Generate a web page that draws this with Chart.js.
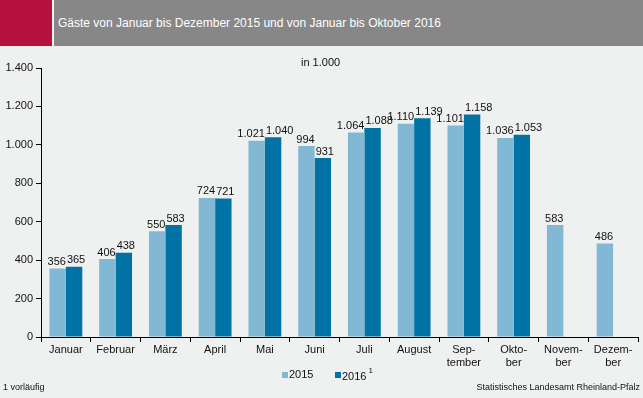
<!DOCTYPE html>
<html>
<head>
<meta charset="utf-8">
<script src="https://cdn.jsdelivr.net/npm/chart.js@4"></script>
<style>
  body { margin: 0; background: #eff0f0; font-family: "Liberation Sans", Arial, sans-serif; }
  #wrap { position: relative; width: 643px; height: 398px; overflow: hidden; }
  #red { position: absolute; left: 0; top: 0; width: 52px; height: 46px; background: #b5113f; }
  #head { position: absolute; left: 54px; top: 0; right: 0; height: 46px; background: #878787;
          color: #fff; font-size: 12px; line-height: 46px; padding-left: 4px; }
  canvas { position: absolute; left: 0; top: 0; }
  .txt { position: absolute; font-size: 11px; color: #111; white-space: nowrap; }
  .box { position: absolute; width: 6px; height: 6px; }
  .foot { position: absolute; font-size: 9px; color: #111; top: 382px; }
</style>
</head>
<body>
<div id="wrap">
  <div id="red"></div>
  <div id="head">Gäste von Januar bis Dezember 2015 und von Januar bis Oktober 2016</div>
  <canvas id="myChart" width="643" height="398"></canvas>
  <div class="txt" style="left:301px; top:56px;">in 1.000</div>
  <div class="box" style="left:282px; top:372px; background:#82b8d3;"></div>
  <div class="txt" style="left:289px; top:368px;">2015</div>
  <div class="box" style="left:335px; top:372px; background:#0072a3;"></div>
  <div class="txt" style="left:342px; top:368px;">2016<sup style="font-size:8px; position:relative; top:-2px; margin-left:2px;">1</sup></div>
  <div class="foot" style="left:3px;">1 vorläufig</div>
  <div class="foot" style="right:3px;">Statistisches Landesamt Rheinland-Pfalz</div>
</div>
<script>
const categories = ['Januar', 'Februar', 'März', 'April', 'Mai', 'Juni', 'Juli', 'August',
  ['Sep-', 'tember'], ['Okto-', 'ber'], ['Novem-', 'ber'], ['Dezem-', 'ber']];
const guests2015 = [356, 406, 550, 724, 1021, 994, 1064, 1110, 1101, 1036, 583, 486];
const guests2016 = [365, 438, 583, 721, 1040, 931, 1088, 1139, 1158, 1053, null, null];

const fontFamily = '"Liberation Sans", Arial, sans-serif';

function fmt(v){
  // German thousands separator
  return String(v).replace(/\B(?=(\d{3})+(?!\d))/g, '.');
}

const valueLabels = {
  id: 'valueLabels',
  afterDatasetsDraw(chart){
    const ctx = chart.ctx;
    ctx.save();
    ctx.font = '11px ' + fontFamily;
    ctx.fillStyle = '#111';
    ctx.textBaseline = 'bottom';
    chart.data.datasets.forEach((ds, i) => {
      const meta = chart.getDatasetMeta(i);
      meta.data.forEach((bar, j) => {
        const v = ds.data[j];
        if(v == null) return;
        if(i == 0){
          ctx.textAlign = 'right';
          ctx.fillText(fmt(v), bar.x + bar.width / 2, bar.y - 1);
        } else {
          ctx.textAlign = 'left';
          ctx.fillText(fmt(v), bar.x - bar.width / 2 + 1, bar.y - 1);
        }
      });
    });
    ctx.restore();
  }
};

new Chart(document.getElementById('myChart').getContext('2d'), {
  type: 'bar',
  data: {
    labels: categories,
    datasets: [
      { label: '2015', data: guests2015, backgroundColor: '#82b8d3', barPercentage: 1, categoryPercentage: 0.66 },
      { label: '2016', data: guests2016, backgroundColor: '#0072a3', barPercentage: 1, categoryPercentage: 0.66 }
    ]
  },
  options: {
    responsive: false,
    animation: false,
    layout: { padding: { top: 68, right: 5, left: 0, bottom: 0 } },
    plugins: { legend: { display: false }, tooltip: { enabled: false } },
    scales: {
      y: {
        min: 0, max: 1400,
        afterFit(scale){ scale.width = 41; },
        ticks: { stepSize: 200, padding: 3, color: '#111', font: { size: 11, family: fontFamily },
                 callback: v => fmt(v) },
        grid: { drawOnChartArea: false, tickLength: 5, color: '#000' },
        border: { display: true, color: '#000', width: 1 }
      },
      x: {
        afterFit(scale){ scale.height = 61; },
        ticks: { padding: 1, color: '#111', maxRotation: 0, autoSkip: false,
                 font: { size: 11, family: fontFamily } },
        grid: { drawOnChartArea: false, tickLength: 5, color: '#000', offset: true },
        border: { display: true, color: '#000', width: 1 }
      }
    }
  },
  plugins: [valueLabels]
});
</script>
</body>
</html>
